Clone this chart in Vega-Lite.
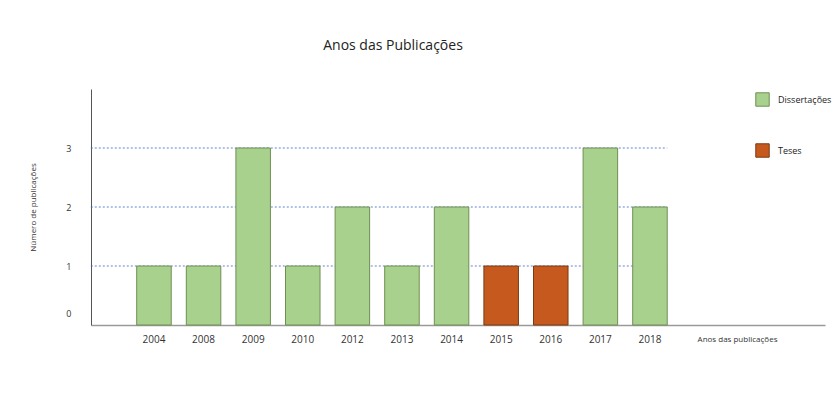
{
  "$schema": "https://vega.github.io/schema/vega-lite/v6.json",
  "autosize": {"type": "none"},
  "width": 734,
  "height": 236,
  "padding": {"left": 91, "top": 89, "right": 8, "bottom": 82},
  "background": "white",
  "title": {
    "text": "Anos das Publicações",
    "font": "Open Sans",
    "fontSize": 14,
    "fontWeight": "normal",
    "color": "#222222",
    "anchor": "middle",
    "dx": -65,
    "offset": 36
  },
  "config": {
    "view": {"stroke": null},
    "font": "Open Sans",
    "axisX": {
      "title": "Anos das publicações",
      "titleFont": "Open Sans",
      "titleFontSize": 8,
      "titleFontWeight": "normal",
      "titleColor": "#333333",
      "titleX": 646,
      "titleY": 14,
      "titleAlign": "center",
      "titleBaseline": "middle",
      "bandPosition": 0.5,
      "labelAngle": 0,
      "labelFont": "Open Sans",
      "labelFontSize": 10,
      "labelColor": "#333333",
      "labelPadding": 14,
      "labelBaseline": "middle",
      "ticks": false,
      "grid": false,
      "domainColor": "#9a9a9a",
      "domainWidth": 1.5
    },
    "axisY": {
      "titleFont": "Open Sans",
      "titleFontSize": 8,
      "titleFontWeight": "normal",
      "titleColor": "#333333",
      "titlePadding": 28,
      "grid": false,
      "ticks": false,
      "labelFont": "Open Sans",
      "labelFontSize": 9,
      "labelColor": "#333333",
      "labelPadding": 20,
      "domainColor": "#555555",
      "domainWidth": 1
    }
  },
  "datasets": {
    "bars": [
      {"ano": "2004", "n": 1, "tipo": "Dissertações"},
      {"ano": "2008", "n": 1, "tipo": "Dissertações"},
      {"ano": "2009", "n": 3, "tipo": "Dissertações"},
      {"ano": "2010", "n": 1, "tipo": "Dissertações"},
      {"ano": "2012", "n": 2, "tipo": "Dissertações"},
      {"ano": "2013", "n": 1, "tipo": "Dissertações"},
      {"ano": "2014", "n": 2, "tipo": "Dissertações"},
      {"ano": "2015", "n": 1, "tipo": "Teses"},
      {"ano": "2016", "n": 1, "tipo": "Teses"},
      {"ano": "2017", "n": 3, "tipo": "Dissertações"},
      {"ano": "2018", "n": 2, "tipo": "Dissertações"}
    ],
    "grid": [{"g": 1}, {"g": 2}, {"g": 3}]
  },
  "layer": [
    {
      "data": {"name": "grid"},
      "mark": {"type": "rule", "color": "#4a6fc4", "strokeDash": [2, 2], "strokeWidth": 1, "opacity": 0.85},
      "encoding": {
        "y": {
          "field": "g",
          "type": "quantitative",
          "axis": {
            "title": "Número de publicações",
            "values": [0, 1, 2, 3],
            "format": "d",
            "labelOffset": {"condition": {"test": "datum.value == 0", "value": -12}, "value": 0}
          }
        },
        "x": {
          "datum": "2004",
          "type": "ordinal",
          "bandPosition": -1.33,
          "axis": {
            "title": "Anos das publicações",
            "bandPosition": 0.5,
            "labelExpr": "test(/^_/, datum.value) ? '' : datum.label"
          }
        },
        "x2": {"datum": "2018", "bandPosition": 1}
      }
    },
    {
      "data": {"name": "bars"},
      "mark": {"type": "bar", "strokeWidth": 1},
      "encoding": {
        "x": {
          "field": "ano",
          "type": "ordinal",
          "sort": null,
          "scale": {
            "domain": ["2004", "2008", "2009", "2010", "2012", "2013", "2014", "2015", "2016", "2017", "2018", "_a", "_b", "_c"],
            "paddingInner": 0.304,
            "paddingOuter": 0.551,
            "align": 0.836
          },
          "axis": {
            "title": "Anos das publicações",
            "bandPosition": 0.5,
            "labelExpr": "test(/^_/, datum.value) ? '' : datum.label"
          }
        },
        "y": {
          "field": "n",
          "type": "quantitative",
          "scale": {"domain": [0, 4], "nice": false},
          "axis": {
            "title": "Número de publicações",
            "values": [0, 1, 2, 3],
            "format": "d",
            "labelOffset": {"condition": {"test": "datum.value == 0", "value": -12}, "value": 0}
          }
        },
        "fill": {
          "field": "tipo",
          "type": "nominal",
          "scale": {"domain": ["Dissertações", "Teses"], "range": ["#a9d18e", "#c65a1e"]},
          "legend": {
            "title": null,
            "orient": "none",
            "legendX": 664,
            "legendY": 3,
            "symbolType": "square",
            "symbolSize": 180,
            "symbolStrokeWidth": 1,
            "rowPadding": 32,
            "labelFont": "Open Sans",
            "labelFontSize": 9,
            "labelColor": "#222222",
            "labelOffset": 8
          }
        },
        "stroke": {
          "field": "tipo",
          "type": "nominal",
          "scale": {"domain": ["Dissertações", "Teses"], "range": ["#6f8f52", "#7a3a12"]},
          "legend": null
        }
      }
    }
  ]
}
